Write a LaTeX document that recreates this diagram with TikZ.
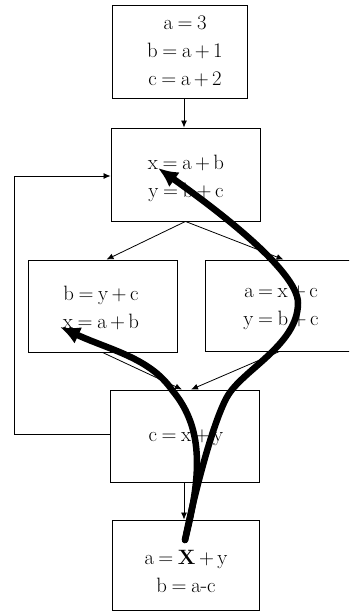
\documentclass[tikz,border=0pt]{standalone}
\usetikzlibrary{arrows.meta,calc}
\thickmuskip=4mu
\medmuskip=3mu
\newcommand{\ex}[1]{$\mathrm{#1}$}
\begin{document}
\begin{tikzpicture}[x=1pt,y=-1pt,
  blk/.style={draw,line width=0.9pt,minimum width=149pt,minimum height=92pt,inner sep=0pt},
  txt/.style={align=center,font=\fontsize{22}{28}\selectfont,inner sep=0pt},
  thinarr/.style={line width=0.8pt,-{Latex[length=7pt,width=6pt]}},
  flow/.style={line width=6.5pt,line cap=round,-{Latex[length=20pt,width=18pt]}}]
\clip (0,0) rectangle (349,612);
\fill[white] (0,0) rectangle (349,612);
% boxes
\node[blk,minimum width=135pt,minimum height=93pt] (b1) at (179.5,51.5) {};
\node[txt] (t1) at (185,51.5) {\ex{a=3}\\\ex{b=a+1}\\\ex{c=a+2}};
\node[blk,minimum height=93pt] (b2) at (185.5,174.5) {};
\node[txt] (t2) at (186,178) {\ex{x=a+b}\\\ex{y=b+c}};
\node[blk] (b3) at (102.5,306) {};
\node[txt] (t3) at (101,307.5) {\ex{b=y+c}\\\ex{x=a+b}};
\node[blk,minimum height=91pt] (b4) at (279.5,305.5) {};
\node[txt] (t4) at (281,308) {\ex{a=x+c}\\\ex{y=b+c}};
\node[blk] (b5) at (185,436) {};
\node[txt] (t5) at (186,438) {\ex{c=x+y}};
\node[blk,minimum width=147pt,minimum height=90pt] (b6) at (185.5,565) {};
\node[txt] (t6) at (186,571) {$\mathrm{a}=\mathbf{X}+\mathrm{y}$\\$\mathrm{b}=\mathrm{a}\mbox{-}\mathrm{c}$};
% thin connectors
\draw[thinarr] ([xshift=4.5pt]b1.south) -- ([xshift=4.5pt]b1.south |- b2.north);
\draw[thinarr] (b2.south) -- ([xshift=4pt]b3.north);
\draw[thinarr] (b2.south) -- ([xshift=4pt]b4.north);
\draw[thinarr] (b3.south) -- ([xshift=-3pt]b5.north);
\draw[thinarr] (b4.south) -- ([xshift=6pt]b5.north);
\draw[thinarr] ([xshift=-1pt]b5.south) -- ([xshift=-1pt]b5.south |- b6.north);
\draw[thinarr] ([yshift=2pt]b5.west) -- ++(-96,0) |- ([yshift=-1.5pt]b2.west);
% thick flow arrows
\coordinate (s) at (185,540);
\coordinate (tA) at (60,327);
\coordinate (tB) at (158,168);
\draw[flow] (s) .. controls (200,480) and (206,430) .. (172,390)
  .. controls (150,358) and (110,350) .. (tA);
\draw[flow] (s) .. controls (193,500) and (212,424) .. (227,397)
  .. controls (242,370) and (298,345) .. (298,303)
  .. controls (298,270) and (210,205) .. (tB);
\end{tikzpicture}
\end{document}
